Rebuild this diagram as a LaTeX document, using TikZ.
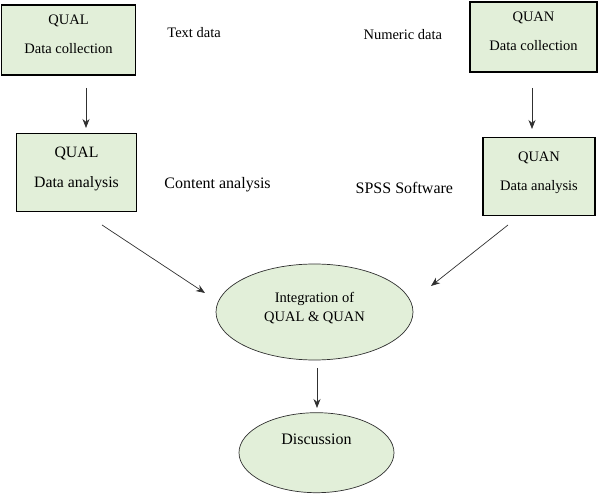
\documentclass[tikz,border=0pt]{standalone}
\usepackage{fontspec}
\setmainfont{Liberation Serif}
\usepackage{xcolor}
\usepackage{tikz}
\usetikzlibrary{arrows.meta}
\usetikzlibrary{shapes.geometric}
\usetikzlibrary{positioning}
\definecolor{boxgreen}{HTML}{E2EFD9}
\definecolor{linegray}{HTML}{303030}

\begin{document}
\begin{tikzpicture}[x=1pt,y=-1pt,>={Stealth[length=9pt,width=7pt]},auto,semithick]
			\tikzstyle{qbox}=[draw=black, line width=1.3pt, fill=boxgreen, align=center, inner sep=0pt, text depth=11pt, font=\fontsize{14.5}{29}\selectfont]
			\tikzstyle{qell}=[draw=linegray, line width=0.7pt, fill=boxgreen, ellipse, align=center, inner sep=0pt]
			\tikzstyle{note}=[inner sep=0pt, font=\fontsize{14.5}{17}\selectfont]
			\tikzstyle{flow}=[->, draw=linegray, line width=0.7pt]
			\useasboundingbox (0,0) rectangle (603,494);
 					 \node[qbox, minimum width=134pt, minimum height=70pt] 			(qualcoll) at (68.5,40)                    		{QUAL\\Data collection};
 					 \node[qbox, minimum width=120pt, minimum height=78pt, font=\fontsize{15.8}{30}\selectfont] 			(qualanal) [below=57pt of qualcoll, xshift=8pt]                   		{QUAL\\Data analysis};
 					 \node[qbox, minimum width=127pt, minimum height=70pt] 			(quancoll) at (533.5,37)                   		{QUAN\\Data collection};
 					 \node[qbox, minimum width=112pt, minimum height=78pt] 			(quananal) [below=64pt of quancoll, xshift=5.5pt]                  		{QUAN\\Data analysis};
 					 \node[note]          (textdata) [right=31pt of qualcoll, yshift=7pt] {Text data};
 					 \node[note, font=\fontsize{16}{19}\selectfont]          (contana) [right=27pt of qualanal, yshift=-12pt] {Content analysis};
 					 \node[note]          (numdata) [left=27pt of quancoll, yshift=2pt] {Numeric data};
 					 \node[note, font=\fontsize{16}{19}\selectfont]          (spss) [left=29pt of quananal, yshift=-12pt] {SPSS Software};
					 \node[qell, minimum width=197pt, minimum height=96pt, text depth=10pt, font=\fontsize{14.5}{19}\selectfont]          (integ) at (314.5,312) {Integration of\\QUAL \& QUAN};
 					 \node[qell, minimum width=155pt, minimum height=80pt, text depth=26pt, font=\fontsize{16}{19}\selectfont]          (disc) [below=52pt of integ, xshift=2pt] {Discussion};

					 \coordinate (qualfrom) at (86,88);
					 \coordinate (qualto) at (86,128);
					 \coordinate (quanfrom) at (532,88);
					 \coordinate (quanto) at (532,129);
					 \coordinate (qualout) at (102,225);
					 \coordinate (qualin) at (205,293);
					 \coordinate (quanout) at (508,225);
					 \coordinate (quanin) at (431,286);
					 \coordinate (integout) at (317,368);
					 \coordinate (discin) at (317,408);

					 \draw[flow] (qualfrom) -- (qualto);
					 \draw[flow] (quanfrom) -- (quanto);
					 \draw[flow] (qualout) -- (qualin);
					 \draw[flow] (quanout) -- (quanin);
					 \draw[flow] (integout) -- (discin);

	\end{tikzpicture}
\end{document}
